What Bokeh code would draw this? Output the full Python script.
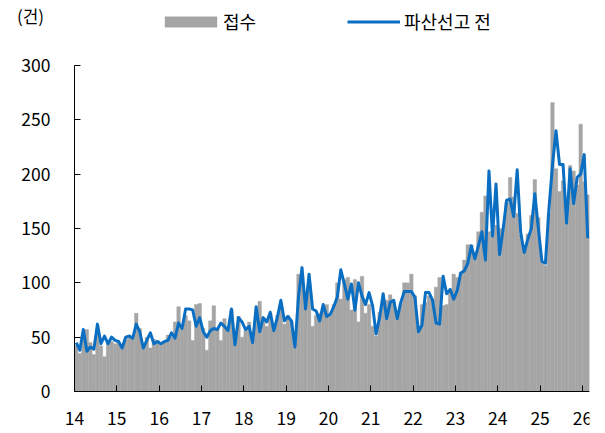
import pandas as pd
from bokeh.plotting import figure
from bokeh.models import (Range1d, FixedTicker, Legend, LegendItem, Label,
                          ColumnDataSource)
from bokeh.embed import file_html
from bokeh.resources import INLINE

# ---- data (monthly, Jan 2014 - Feb 2026) ----
year_labels = ["14", "15", "16", "17", "18", "19", "20", "21", "22", "23", "24", "25", "26"]
y_ticks = [0, 50, 100, 150, 200, 250, 300]

receipts = [  # 접수 (bars)
    42, 35, 50, 57, 45, 34, 55, 42, 32, 45, 46, 44,
    45, 42, 48, 52, 50, 72, 58, 42, 50, 40, 48, 47,
    44, 46, 52, 50, 64, 78, 58, 70, 65, 47, 80, 81,
    58, 38, 65, 79, 58, 47, 67, 58, 75, 46, 69, 50,
    56, 64, 48, 72, 83, 68, 60, 72, 58, 70, 80, 62,
    70, 65, 45, 108, 100, 82, 100, 60, 70, 72, 78, 80,
    70, 80, 100, 85, 103, 105, 75, 103, 64, 106, 72, 80,
    60, 51, 73, 80, 84, 89, 82, 70, 80, 100, 100, 108,
    88, 60, 80, 82, 88, 85, 96, 105, 79, 80, 92, 108,
    105, 110, 121, 135, 135, 128, 147, 165, 180, 147, 148, 153,
    150, 150, 174, 197, 179, 164, 144, 129, 145, 162, 195, 160,
    120, 116, 164, 266, 205, 184, 194, 156, 208, 203, 190, 246,
    193, 181,
]

pre_declaration = [  # 파산선고 전 (line)
    45, 38, 57, 37, 41, 39, 62, 44, 51, 44, 50, 47,
    46, 40, 50, 51, 49, 62, 55, 40, 47, 54, 44, 46,
    44, 46, 47, 54, 49, 63, 58, 76, 76, 75, 60, 68,
    55, 50, 56, 58, 57, 63, 60, 56, 76, 43, 68, 64,
    57, 60, 45, 78, 55, 68, 64, 73, 56, 68, 84, 65,
    69, 65, 41, 87, 114, 76, 108, 76, 74, 65, 80, 69,
    71, 78, 87, 112, 99, 85, 99, 75, 100, 88, 80, 91,
    79, 53, 68, 90, 67, 82, 84, 67, 82, 92, 92, 92,
    87, 55, 61, 91, 91, 84, 63, 62, 106, 90, 94, 85,
    93, 109, 111, 118, 134, 122, 134, 147, 121, 203, 143, 191,
    126, 149, 176, 177, 161, 204, 146, 128, 140, 150, 182, 150,
    120, 118, 168, 208, 240, 209, 209, 155, 205, 173, 197, 200,
    218, 141,
]

months = pd.date_range("2014-01-01", periods=len(receipts), freq="MS")
n = len(months)
xpos = [i + 0.5 for i in range(n)]

src = ColumnDataSource(dict(x=xpos, r=receipts, p=pre_declaration,
                            m=[d.strftime("%Y-%m") for d in months]))

FONT = "Noto Sans CJK KR"

# frame spans the whole figure (axes drawn at fixed locations inside it)
W, H = 597, 431
px_per_month = 515 / n
x_start = -74 / px_per_month
px_per_unit = 326 / 300
y_start = -(H - 391) / px_per_unit
y_end = 391 / px_per_unit

p = figure(width=W, height=H, output_backend="svg", toolbar_location=None,
           x_range=Range1d(x_start, n), y_range=Range1d(y_start, y_end),
           min_border_left=0, min_border_right=8, min_border_top=0,
           min_border_bottom=0)
p.outline_line_color = None
p.grid.visible = False
p.background_fill_color = "white"

bars = p.vbar(x="x", top="r", bottom=0, width=1.0, source=src, fill_color="#A5A5A5",
              line_color="#A5A5A5", line_width=0.4)
line = p.line(x="x", y="p", source=src, line_color="#0A6FC2", line_width=3,
              line_join="round")

# axes
year_ticks = [12 * i for i in range(len(year_labels))]
p.xaxis.ticker = FixedTicker(ticks=year_ticks)
p.xaxis.major_label_overrides = {t: lab for t, lab in zip(year_ticks, year_labels)}
p.xaxis.bounds = (0, n)
p.xaxis.fixed_location = 0
p.yaxis.ticker = FixedTicker(ticks=y_ticks)
p.yaxis.bounds = (y_ticks[0], y_ticks[-1])
p.yaxis.fixed_location = 0

for ax in (p.xaxis[0], p.yaxis[0]):
    ax.major_tick_in = 6
    ax.major_tick_out = 0
    ax.minor_tick_line_color = None
    ax.axis_line_color = "#000000"
    ax.major_tick_line_color = "#000000"
    ax.major_label_text_font = FONT
    ax.major_label_text_font_size = "17.5px"
    ax.major_label_text_color = "#000000"
p.xaxis.major_label_standoff = 20
p.yaxis.major_label_standoff = 24

# legends
leg1 = Legend(items=[LegendItem(label="접수", renderers=[bars])],
              orientation="horizontal", location=(158, H - 34),
              glyph_width=65, glyph_height=13, label_standoff=-2,
              label_height=26, padding=0, margin=0, border_line_color=None,
              background_fill_alpha=0, label_text_font=FONT,
              label_text_font_size="18px", label_text_color="#000000")
leg2 = Legend(items=[LegendItem(label="파산선고 전", renderers=[line])],
              orientation="horizontal", location=(347, H - 34),
              glyph_width=53, glyph_height=13, label_standoff=4,
              label_height=26, padding=0, margin=0, border_line_color=None,
              background_fill_alpha=0, label_text_font=FONT,
              label_text_font_size="18px", label_text_color="#000000")
p.add_layout(leg1)
p.add_layout(leg2)

unit = Label(x=(30 - 74) / px_per_month, y=(391 - 15) / px_per_unit, text="(건)",
             text_font=FONT, text_font_size="17px", text_align="center",
             text_baseline="middle", text_color="#000000")
p.add_layout(unit)

open("out.html", "w").write(file_html(p, INLINE))
